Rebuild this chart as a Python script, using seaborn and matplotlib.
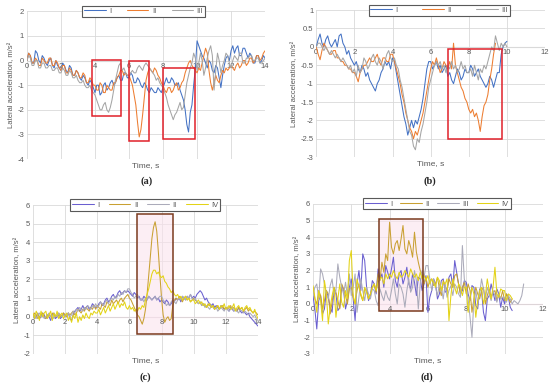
import numpy as np
import pandas as pd
import seaborn as sns
import matplotlib.pyplot as plt
from matplotlib.patches import Rectangle

sns.set_style('white')
plt.rcParams['font.family'] = ['Liberation Sans', 'DejaVu Sans']
plt.rcParams['axes.unicode_minus'] = False

# sample step of all series, s
DT = 0.1

# ---- (a) ----
a_I = [0.0, 0.3, 0.2, -0.1, -0.1, 0.4, 0.3, 0.0, -0.1, 0.2, 0.1, -0.1, -0.2, 0.0, 0.1, -0.2, -0.3, 0.0, -0.2, -0.3,
       -0.4, -0.1, -0.2, -0.4, -0.5, -0.2, -0.3, -0.6, -0.6, -0.4, -0.5, -0.7, -0.8, -0.6, -0.7, -0.9, -1.0, -0.8, -0.9, -1.1,
       -1.3, -1.0, -1.0, -1.4, -1.3, -1.0, -0.9, -1.2, -1.1, -0.9, -0.8, -1.0, -0.9, -0.7, -0.6, -0.8, -0.8, -0.5, -0.5, -0.7,
       -0.7, -0.5, -0.6, -0.9, -0.9, -0.7, -0.8, -1.0, -1.1, -0.9, -1.0, -1.2, -1.3, -1.1, -1.2, -1.3, -1.3, -1.1, -1.2, -1.3,
       -1.1, -0.9, -0.7, -0.9, -0.9, -0.7, -0.8, -1.0, -1.0, -0.9, -1.2, -1.4, -1.6, -2.0, -2.6, -2.9, -2.1, -1.8, -1.0, -0.3,
       0.8, 0.6, 0.4, 0.2, 0.1, -0.1, -0.3, 0.0, -0.1, -0.4, -0.5, -0.2, -0.3, -0.7, -1.1, -0.6, -0.2, 0.1, 0.2, 0.0,
       0.4, 0.6, 0.3, 0.5, 0.6, 0.2, 0.2, 0.5, 0.5, 0.3, 0.1, 0.3, 0.2, -0.1, -0.1, 0.2, 0.2, -0.1, 0.0, 0.2,
       0.1]
a_II = [0.0, 0.3, 0.2, -0.1, -0.1, 0.1, 0.0, -0.2, -0.2, 0.1, 0.0, -0.1, -0.1, 0.1, 0.1, -0.2, -0.2, 0.0, -0.1, -0.3,
        -0.4, -0.2, -0.2, -0.5, -0.5, -0.3, -0.4, -0.6, -0.6, -0.4, -0.5, -0.7, -0.7, -0.5, -0.6, -0.9, -0.9, -0.7, -0.8, -1.0,
        -1.0, -1.2, -1.2, -0.9, -1.0, -1.3, -1.3, -1.0, -1.1, -1.2, -1.2, -0.9, -0.9, -0.7, -0.6, -0.4, -0.4, -0.6, -0.5, -0.6,
        -0.6, -0.8, -1.0, -1.4, -1.8, -2.5, -3.1, -2.8, -2.2, -1.5, -0.8, -0.5, -0.3, -0.4, -0.5, -0.3, -0.4, -0.6, -0.7, -0.9,
        -1.0, -1.2, -1.3, -1.1, -1.1, -1.3, -1.2, -1.0, -0.9, -1.2, -1.1, -0.9, -0.8, -0.5, -0.3, -0.1, 0.0, -0.2, -0.3, -0.4,
        -0.5, -0.3, -0.4, -0.1, 0.2, 0.5, 0.3, -0.4, -0.9, -1.2, -0.9, -0.6, -0.8, -0.9, -0.6, -0.4, -0.5, -0.3, -0.4, -0.3,
        -0.2, -0.3, -0.4, -0.2, -0.1, -0.3, -0.2, 0.0, 0.0, -0.2, -0.1, 0.1, 0.1, -0.1, 0.0, 0.2, 0.2, 0.0, 0.1, 0.3,
        0.4]
a_III = [0.0, 0.2, 0.1, -0.2, -0.2, 0.0, 0.0, -0.3, -0.3, -0.1, -0.1, -0.3, -0.3, -0.2, -0.2, -0.4, -0.4, -0.3, -0.3, -0.5,
         -0.5, -0.3, -0.4, -0.6, -0.6, -0.4, -0.5, -0.7, -0.7, -0.6, -0.8, -0.9, -0.9, -0.8, -1.0, -1.1, -1.1, -1.0, -1.2, -1.3,
         -1.4, -1.6, -1.8, -2.0, -2.0, -1.8, -1.7, -2.0, -2.1, -1.9, -1.6, -1.2, -0.8, -0.5, -0.2, -0.1, -0.4, -0.3, -0.5, -0.6,
         -0.6, -0.5, -0.4, -0.5, -0.5, -0.3, -0.2, -0.3, -0.4, -0.2, -0.1, -0.2, -0.3, -0.4, -0.5, -0.6, -0.8, -0.7, -0.9, -1.0,
         -1.1, -1.3, -1.5, -1.8, -2.0, -2.2, -2.4, -2.2, -2.1, -1.9, -1.7, -2.0, -1.9, -1.4, -0.9, -0.6, -0.3, -0.1, 0.3, 0.1,
         -0.4, -0.1, 0.3, 0.0, -0.6, -0.3, 0.1, 0.4, 0.6, 0.2, -1.2, -0.4, 0.3, 0.0, -0.5, -0.2, 0.0, 0.3, 0.2, -0.1,
         -0.3, 0.0, 0.2, 0.1, 0.0, 0.3, 0.3, -0.1, -0.1, 0.1, 0.1, 0.2, 0.2, 0.0, 0.0, 0.1, 0.1, -0.1, -0.1, 0.0,
         0.1]

# ---- (b) ----
b_I = [0.0, 0.2, 0.35, 0.1, 0.0, 0.2, 0.3, 0.1, 0.0, 0.1, 0.2, 0.0, 0.3, 0.35, 0.1, 0.0, -0.2, -0.1, -0.3, -0.4,
       -0.5, -0.4, -0.6, -0.7, -0.5, -0.6, -0.8, -0.7, -0.9, -1.0, -1.1, -1.2, -1.0, -0.9, -0.7, -0.6, -0.4, -0.5, -0.4, -0.6,
       -0.3, -0.4, -0.7, -1.0, -1.3, -1.6, -1.9, -2.1, -2.4, -2.2, -2.0, -2.2, -2.0, -2.1, -1.9, -1.7, -1.4, -1.0, -0.6, -0.4,
       -0.4, -0.6, -0.5, -0.4, -0.6, -0.5, -0.7, -0.6, -0.5, -0.8, -0.7, -0.9, -1.0, -0.8, -0.6, -0.7, -0.9, -0.8, -0.6, -0.7,
       -0.7, -0.5, -0.6, -0.8, -0.7, -0.6, -0.8, -0.9, -1.0, -1.1, -1.0, -0.8, -0.9, -1.1, -0.9, -0.7, -0.7, -0.2, 0.0, 0.1,
       0.15]
b_II = [0.0, -0.2, -0.35, -0.1, 0.1, 0.0, -0.1, -0.2, -0.2, -0.1, -0.1, -0.3, -0.3, -0.4, -0.4, -0.5, -0.5, -0.6, -0.6, -0.7,
        -0.7, -0.8, -0.95, -0.7, -0.6, -0.5, -0.5, -0.4, -0.3, -0.4, -0.4, -0.3, -0.2, -0.4, -0.5, -0.3, -0.3, -0.4, -0.4, -0.2,
        -0.2, -0.4, -0.6, -0.8, -1.0, -1.3, -1.5, -1.8, -2.0, -2.2, -2.3, -2.5, -2.3, -2.4, -2.2, -2.0, -1.8, -1.5, -1.2, -0.9,
        -0.6, -0.4, -0.5, -0.3, -0.5, -0.7, -0.6, -0.4, -0.5, -0.6, -0.4, -0.6, 0.1, -0.5, -0.7, -0.9, -1.1, -1.2, -1.4, -1.5,
        -1.7, -1.8, -1.7, -1.9, -1.8, -2.0, -2.3, -1.9, -1.6, -1.5, -1.3, -0.9, -0.6, -0.2, 0.1]
b_III = [0.0, 0.1, 0.1, 0.0, -0.1, 0.0, -0.1, -0.2, -0.1, -0.2, -0.3, -0.2, -0.3, -0.4, -0.3, -0.4, -0.5, -0.6, -0.5, -0.7,
         -0.6, -0.8, -0.5, -0.7, -0.6, -0.3, -0.4, -0.6, -0.5, -0.3, -0.2, -0.4, -0.5, -0.3, -0.4, -0.6, -0.4, -0.2, -0.1, -0.3,
         -0.4, -0.3, -0.5, -0.6, -0.9, -1.1, -1.4, -1.7, -2.0, -2.3, -2.4, -2.7, -2.8, -2.5, -2.6, -2.3, -2.1, -1.8, -1.5, -1.1,
         -0.9, -0.7, -0.5, -0.4, -0.5, -0.4, -0.6, -0.5, -0.7, -0.5, -0.6, -0.4, -0.6, -0.5, -0.7, -0.6, -0.4, -0.6, -0.5, -0.7,
         -0.7, -0.6, -0.8, -0.5, -0.7, -0.9, -0.6, -0.7, -0.5, -0.6, -0.4, -0.2, 0.0, -0.1, 0.3, 0.1, -0.1, 0.1, 0.0, 0.1,
         0.0]

# ---- (c) ----
c_I = [0.1, -0.1, 0.0, 0.2, -0.1, 0.0, 0.2, 0.1, -0.1, 0.1, 0.0, -0.2, 0.1, 0.2, -0.1, 0.0, 0.1, -0.1, 0.0, 0.2,
       0.0, 0.1, 0.2, -0.1, -0.2, 0.1, 0.3, 0.4, 0.5, 0.3, 0.4, 0.6, 0.4, 0.5, 0.6, 0.4, 0.5, 0.7, 0.6, 0.5,
       0.5, 0.7, 0.8, 0.6, 0.7, 0.9, 1.0, 0.8, 0.9, 1.1, 1.2, 1.0, 1.1, 1.3, 1.4, 1.2, 1.3, 1.4, 1.3, 1.4,
       1.3, 1.2, 1.1, 1.3, 1.2, 1.0, 1.1, 0.9, 0.9, 1.1, 1.0, 0.9, 1.1, 1.0, 0.9, 1.0, 1.1, 0.9, 1.0, 0.8,
       0.9, 0.8, 0.7, 0.9, 0.8, 0.6, 0.7, 0.9, 0.8, 1.0, 0.9, 1.0, 0.8, 1.1, 1.0, 0.9, 1.1, 1.0, 1.2, 1.0,
       1.1, 1.0, 1.2, 1.3, 1.4, 1.3, 1.1, 0.9, 1.0, 0.8, 0.7, 0.6, 0.7, 0.5, 0.6, 0.5, 0.4, 0.6, 0.5, 0.4,
       0.5, 0.4, 0.3, 0.5, 0.4, 0.3, 0.4, 0.3, 0.5, 0.3, 0.2, 0.3, 0.2, 0.1, 0.2, 0.0, -0.1, -0.2, -0.3, -0.4,
       -0.5]
c_II = [0.0, 0.2, 0.1, -0.1, 0.0, 0.1, 0.2, 0.0, -0.1, 0.1, 0.1, 0.0, 0.2, 0.1, 0.0, 0.1, 0.2, 0.0, 0.1, 0.2,
        0.1, 0.0, 0.2, 0.1, 0.2, 0.3, 0.1, 0.2, 0.4, 0.3, 0.2, 0.4, 0.3, 0.5, 0.4, 0.3, 0.5, 0.4, 0.6, 0.4,
        0.6, 0.5, 0.4, 0.7, 0.6, 0.5, 0.8, 0.7, 0.6, 0.9, 0.7, 0.8, 0.9, 0.7, 0.9, 1.0, 0.8, 1.0, 1.1, 1.2,
        1.0, 0.9, 0.7, 0.5, 0.3, 0.1, 0.0, -0.2, -0.4, -0.1, 0.4, 1.2, 2.2, 3.2, 4.2, 4.8, 5.1, 4.6, 3.5, 2.2,
        1.0, 0.1, -0.3, -0.1, 0.0, -0.2, -0.1, 0.6, 0.9, 1.0, 0.9, 1.1, 1.0, 0.8, 1.0, 1.1, 0.9, 1.0, 0.8, 0.9,
        1.0, 0.9, 0.8, 0.7, 0.8, 0.6, 0.7, 0.6, 0.5, 0.7, 0.6, 0.5, 0.6, 0.4, 0.5, 0.6, 0.4, 0.5, 0.6, 0.4,
        0.5, 0.4, 0.5, 0.6, 0.4, 0.5, 0.4, 0.3, 0.5, 0.4, 0.5, 0.3, 0.4, 0.5, 0.3, 0.4, 0.3, 0.2, 0.3, 0.2,
        0.1]
c_III = [0.0, 0.1, -0.1, 0.1, 0.2, 0.0, 0.1, -0.1, 0.0, 0.1, 0.2, 0.0, 0.1, -0.1, 0.1, 0.0, 0.2, 0.1, 0.0, 0.1,
         0.0, 0.1, 0.2, 0.0, 0.1, 0.3, 0.2, 0.4, 0.3, 0.5, 0.4, 0.3, 0.5, 0.4, 0.6, 0.5, 0.4, 0.6, 0.5, 0.7,
         0.5, 0.6, 0.8, 0.7, 0.6, 0.8, 0.9, 0.7, 0.9, 1.0, 0.9, 1.1, 1.0, 1.2, 1.1, 1.3, 1.2, 1.4, 1.3, 1.5,
         1.5, 1.3, 1.2, 1.0, 1.1, 1.2, 1.0, 0.9, 1.0, 0.8, 1.0, 0.9, 1.1, 1.0, 0.9, 1.0, 1.1, 0.9, 1.0, 1.1,
         1.1, 0.9, 0.8, 0.6, 0.7, 0.6, 0.8, 0.9, 0.8, 0.7, 0.9, 1.0, 0.9, 1.1, 1.0, 0.9, 1.1, 1.0, 1.2, 1.0,
         0.9, 1.0, 0.8, 0.7, 0.8, 0.6, 0.7, 0.5, 0.6, 0.5, 0.4, 0.6, 0.5, 0.4, 0.5, 0.3, 0.4, 0.5, 0.4, 0.3,
         0.5, 0.4, 0.3, 0.4, 0.5, 0.3, 0.4, 0.3, 0.2, 0.4, 0.3, 0.2, 0.3, 0.2, 0.1, 0.2, 0.1, 0.0, 0.1, -0.1,
         -0.2]
c_IV = [0.2, -0.1, 0.3, 0.1, -0.2, 0.3, 0.0, 0.2, 0.3, -0.1, 0.1, 0.3, -0.2, 0.2, 0.0, 0.3, -0.1, 0.1, 0.2, -0.1,
        0.1, 0.2, -0.2, 0.0, -0.3, 0.1, -0.1, 0.2, -0.3, 0.0, -0.2, 0.1, -0.1, 0.2, 0.0, -0.1, 0.2, 0.1, 0.3, 0.2,
        0.2, 0.4, 0.1, 0.3, 0.5, 0.2, 0.4, 0.6, 0.3, 0.5, 0.7, 0.4, 0.6, 0.8, 0.5, 0.7, 0.6, 0.8, 0.5, 0.4,
        0.6, 0.4, 0.5, 0.3, 0.4, 0.3, 0.5, 0.4, 0.6, 0.5, 0.9, 1.2, 1.5, 1.9, 2.3, 2.5, 2.5, 2.3, 2.4, 2.2,
        2.1, 2.2, 1.9, 1.8, 1.6, 1.5, 1.3, 1.4, 1.2, 1.1, 1.2, 1.0, 1.1, 0.9, 1.0, 1.1, 0.9, 1.0, 0.8, 0.9,
        0.9, 0.7, 0.8, 0.9, 0.7, 0.8, 0.6, 0.7, 0.5, 0.6, 0.7, 0.5, 0.6, 0.4, 0.5, 0.6, 0.4, 0.6, 0.5, 0.7,
        0.4, 0.5, 0.6, 0.4, 0.5, 0.7, 0.3, 0.5, 0.6, 0.4, 0.5, 0.3, 0.5, 0.6, 0.4, 0.5, 0.3, 0.2, 0.4, 0.1,
        -0.1]

# ---- (d) ----
d_I = [0.5, -0.3, -1.5, 0.2, 0.5, -0.6, -0.3, 0.8, 0.4, -0.2, -0.5, 0.9, 0.6, -0.4, -0.2, 1.1, 0.8, -0.3, 0.2, 1.0,
       1.5, 0.3, -1.0, 1.2, 2.0, 0.8, 3.0, 2.6, 1.0, 0.2, 0.5, 1.4, 1.2, 0.6, 2.1, 1.5, 1.8, 1.0, 2.3, 1.9,
       1.5, 2.1, 2.8, 1.4, 1.0, 1.8, 2.0, 1.2, 1.6, 2.2, 1.2, 0.9, 1.8, 1.3, 0.5, 1.6, 1.5, 0.8, 1.2, 1.7,
       -0.5, 0.4, 0.8, 1.5, 1.2, 0.3, 0.6, 1.4, 1.5, 0.7, 0.8, 1.6, 1.8, 1.0, 2.6, 1.9, 1.2, 0.6, 0.8, 1.4,
       1.3, 0.6, 0.2, 1.1, 1.0, -0.1, -0.3, 0.9, 0.8, -0.5, -1.0, 0.3, 0.5, 1.2, 0.7, 0.2, 0.9, 0.6, -0.2, 0.4,
       0.0, 0.6, 0.4, -0.2, -0.4]
d_II = [1.0, 0.3, 0.0, 0.8, 0.5, -0.3, 0.2, 0.8, 0.6, -0.6, 0.1, 1.0, 0.7, 0.2, -0.3, 1.2, 0.9, 0.5, 0.0, 0.9,
        1.0, 0.4, 0.0, 0.8, 1.2, 0.5, 0.2, 0.9, 0.8, 0.3, 0.6, 1.0, 1.2, 0.7, 1.8, 1.4, 2.5, 1.9, 3.0, 2.6,
        4.9, 3.4, 3.0, 3.6, 3.8, 3.2, 3.9, 4.7, 3.3, 3.0, 3.8, 3.4, 2.8, 4.3, 3.1, 2.5, 2.0, 1.8, 1.2, 1.6,
        1.0, 1.4, 1.5, 1.1, 1.2, 1.6, 0.9, 0.5, 1.4, 1.1, 0.8, 1.5, 1.2, 1.0, 1.7, 1.8, 1.2, 0.6, 1.0, 1.3,
        0.6, 1.2, 0.8, -0.5, 0.3, 1.0, 0.6, 0.3, 0.8, 1.0, 0.0, 0.5, 0.9, 0.4, 0.7, 0.8, 0.2, 0.6, 0.3, 0.8,
        0.2, 0.6, 0.4, 0.1, 0.3]
d_III = [0.5, 1.0, 1.2, 0.3, 2.1, 1.8, 1.2, 0.6, 0.3, 1.1, 1.5, 0.5, 0.8, 2.4, 1.6, 1.0, 0.6, 1.3, 0.5, 1.8,
         0.5, 1.0, 1.8, -0.5, 0.4, 1.5, 0.8, 0.2, 1.0, 0.6, 0.3, 0.9, 0.8, 0.2, -0.1, 0.9, 0.5, 0.2, 0.8, 0.4,
         0.2, 0.8, 1.5, 0.6, 0.0, 1.2, 1.0, 0.6, -0.2, 0.8, 1.5, 0.7, 1.0, 2.0, 1.4, -0.3, 1.2, 2.0, 1.6, 2.3,
         2.3, 1.5, 0.8, 1.5, 1.0, 0.5, 1.2, 1.0, 0.3, 1.2, 0.4, 0.8, 1.1, 0.5, 1.2, 1.0, 0.6, 0.4, 3.5, 1.5,
         1.0, 0.3, -0.8, -2.0, 0.2, 0.8, 0.0, 0.6, 1.5, 0.9, 0.3, 1.0, 0.6, 0.2, 0.8, 0.5, 0.1, 0.6, 0.3, 0.4,
         0.4, 0.1, 0.5, 0.3, 0.0, 0.2, 0.1, 0.0, 0.2, 0.5, 1.2]
d_IV = [1.1, 0.4, -0.5, 0.8, 0.2, -1.0, 1.4, 0.6, -1.2, -0.2, 0.5, 1.0, -0.8, 0.3, 1.2, 0.1, -0.2, 0.8, 0.3, 2.6,
        3.2, 0.5, 0.0, 1.5, 1.0, 0.6, 0.2, 1.0, 0.7, 0.3, 0.6, 1.0, 1.2, 0.8, 1.3, 1.5, 1.6, 1.2, 1.8, 1.5,
        1.8, 1.6, 2.0, 1.7, 1.5, 1.9, 1.6, 1.7, 2.0, 1.8, 1.6, 2.1, 1.8, 1.6, 1.8, 1.4, 1.9, 1.5, 1.7, 1.4,
        1.7, 1.2, 1.5, 1.3, 1.0, 1.6, 1.4, 0.8, 1.3, 1.2, 1.5, -1.0, 0.5, 1.5, 1.0, 0.6, 1.2, 1.0, 0.5, 1.0,
        1.0, -0.5, 0.4, 1.0, 0.6, -0.8, 0.2, 0.8, 1.0, 0.0, 0.5, 1.5, 0.8, 0.3, 1.0, 2.2, 0.6, 0.4, 0.9, 0.8,
        0.8, 0.2, 0.6, 0.5, 0.3]

labels_abc = ['I', 'II', 'III']
labels_c = ['I', 'II', 'II', 'IV']
labels_d = ['I', 'II', 'III', 'IV']
colors3 = ['#4472C4', '#ED7D31', '#A5A5A5']
colors4 = ['#6A5FD0', '#C9A032', '#ABABBA', '#E3D317']

# highlight boxes: (t0, t1, y0, y1)
boxes_a = [(3.85, 5.5, -2.25, 0.04), (6.0, 7.15, -3.28, -0.03), (8.0, 9.9, -3.18, -0.3)]
boxes_b = [(6.93, 9.73, -2.5, -0.07)]
boxes_c = [(6.45, 8.7, -0.95, 5.5)]
boxes_d = [(3.47, 5.75, -0.4, 5.1)]


def long_df(series):
    frames = []
    for i, vals in enumerate(series):
        frames.append(pd.DataFrame({'t': np.arange(len(vals)) * DT,
                                    'acc': vals, 'run': f's{i}'}))
    return pd.concat(frames, ignore_index=True)


def panel(rect, series, colors, labels, xmax, ylim, ystep, boxes,
          box_edge, box_fill, zero_col, tag, tag_pos, leg_x, colsp):
    ax = fig.add_axes(rect)
    df = long_df(series)
    sns.lineplot(data=df, x='t', y='acc', hue='run', palette=colors,
                 estimator=None, sort=False, linewidth=0.75, legend=False,
                 ax=ax, zorder=2)
    lines = list(ax.lines)

    ax.set_xlim(0, xmax)
    ax.set_ylim(*ylim)
    xt = np.arange(0, xmax + 1, 2)
    yt = np.arange(ylim[0], ylim[1] + ystep / 2, ystep)
    ax.set_xticks(xt)
    ax.set_yticks(yt)
    ax.set_yticklabels([f'{v:g}' for v in yt])
    ax.tick_params(axis='both', length=0, labelsize=5.5, labelcolor='#595959', pad=2)
    ax.tick_params(axis='x', labelbottom=False)
    ax.grid(True, color='#d9d9d9', linewidth=0.6, zorder=0)
    ax.set_axisbelow(True)
    ax.axhline(0, color=zero_col, linewidth=0.8, zorder=0.5)
    for s in ax.spines.values():
        s.set_visible(False)

    # Excel-style: category labels sit on the y = 0 line
    for x in xt:
        ax.annotate(f'{x:g}', (x, 0), xytext=(0, -1.5), textcoords='offset points',
                    ha='center', va='top', fontsize=5.5, color='#595959', zorder=1)

    for (x0, x1, y0, y1) in boxes:
        if box_fill:
            ax.add_patch(Rectangle((x0, y0), x1 - x0, y1 - y0, facecolor=box_fill,
                                   edgecolor='none', alpha=0.6, zorder=0.8))
        ax.add_patch(Rectangle((x0, y0), x1 - x0, y1 - y0, fill=False,
                               edgecolor=box_edge, linewidth=1.1, zorder=3))

    ax.set_xlabel('Time, s', fontsize=6, color='#595959', labelpad=2)
    ax.set_ylabel('Lateral acceleration, m/s²', fontsize=5.5, color='#595959', labelpad=2)

    leg = ax.legend(lines, labels, loc='center', bbox_to_anchor=(leg_x, 1.0),
                    ncol=len(labels), fontsize=5.5, frameon=True, fancybox=False,
                    handlelength=2.8, handletextpad=0.5, columnspacing=colsp,
                    borderpad=0.25, edgecolor='#595959', framealpha=1)
    leg.get_frame().set_linewidth(0.8)
    for t in leg.get_texts():
        t.set_color('#595959')
    leg.set_zorder(5)

    fig.text(tag_pos[0], tag_pos[1], tag, ha='center', va='center',
             fontsize=7.5, fontweight='bold', family='Liberation Serif')
    return ax


fig = plt.figure(figsize=(5.5, 3.89), dpi=100)

panel([0.049, 0.591, 0.433, 0.380], [a_I, a_II, a_III], colors3, labels_abc,
      14, (-4, 2), 1, boxes_a, '#E0202A', None, '#d9d9d9', '(a)', (0.267, 0.535), 0.49, 2.0)
panel([0.575, 0.596, 0.416, 0.378], [b_I, b_II, b_III], colors3, labels_abc,
      12, (-3, 1), 0.5, boxes_b, '#E0202A', None, '#d9d9d9', '(b)', (0.782, 0.535), 0.537, 3.2)
panel([0.060, 0.090, 0.409, 0.383], [c_I, c_II, c_III, c_IV], colors4, labels_c,
      14, (-2, 6), 1, boxes_c, '#7B3A1E', '#FBE3EE', '#F3C3D6', '(c)', (0.264, 0.031), 0.5, 1.2)
panel([0.569, 0.090, 0.418, 0.386], [d_I, d_II, d_III, d_IV], colors4, labels_d,
      12, (-3, 6), 1, boxes_d, '#7B3A1E', '#FBE3EE', '#F3C3D6', '(d)', (0.776, 0.031), 0.54, 1.0)

fig.savefig('out.png', dpi=100)
